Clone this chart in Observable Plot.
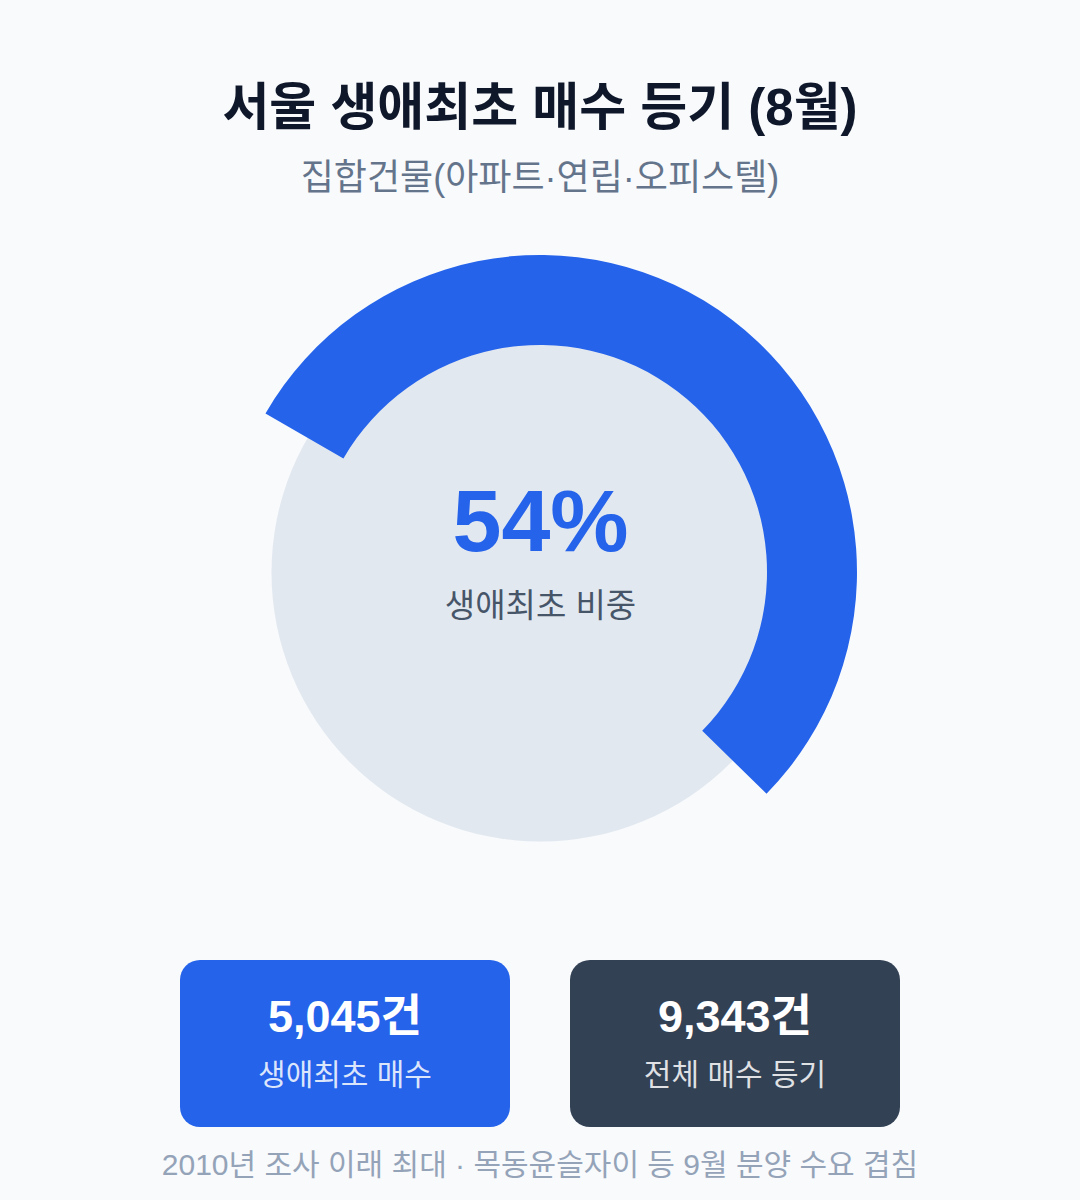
<!DOCTYPE html>
<html lang="ko">
<head>
<meta charset="utf-8">
<script src="https://cdn.jsdelivr.net/npm/d3@7"></script>
<script src="https://cdn.jsdelivr.net/npm/@observablehq/plot@0.6"></script>
<style>
  html, body { margin: 0; padding: 0; background: #f8fafc; }
  body { width: 1080px; height: 1200px; position: relative; overflow: hidden;
         font-family: "Liberation Sans", "Noto Sans CJK KR", sans-serif; }
  .abs { position: absolute; left: 0; width: 1080px; text-align: center; white-space: nowrap; }
  #title { top: 82px; font-size: 51px; line-height: 51px; font-weight: 700; color: #0f172a; }
  #subtitle { top: 160px; font-size: 36px; line-height: 36px; color: #64748b; }
  #chart { position: absolute; left: 0; top: 220px; }
  .card { position: absolute; top: 960px; width: 330px; height: 167px; border-radius: 20px; color: #fff; text-align: center; }
  .card .val { position: absolute; left: 0; width: 100%; font-size: 45px; line-height: 45px; font-weight: 700; }
  .card .lab { position: absolute; left: 0; width: 100%; font-size: 30px; line-height: 30px; color: rgba(255,255,255,0.85); }
  #footer { top: 1150px; font-size: 30px; line-height: 30px; color: #94a3b8; }
</style>
</head>
<body>
<div id="title" class="abs"></div>
<div id="subtitle" class="abs"></div>
<div id="chart"></div>
<div id="cards"></div>
<div id="footer" class="abs"></div>
<script>
// ---- data ----
const titleText = ["서울 생애최초 매수 등기 (8월)"];
const subtitleText = ["집합건물(아파트·연립·오피스텔)"];
const categories = ["생애최초 매수", "전체 매수 등기"];
const counts = [5045, 9343];
const cardColors = ["#2563eb", "#334155"];
const centerLabel = ["생애최초 비중"];
const footerText = ["2010년 조사 이래 최대 · 목동윤슬자이 등 9월 분양 수요 겹침"];

const share = counts[0] / counts[1];
const gauge = [{share, label: centerLabel[0]}];

document.getElementById("title").textContent = titleText[0];
document.getElementById("subtitle").textContent = subtitleText[0];
document.getElementById("footer").textContent = footerText[0];

const FONT = "Liberation Sans, Noto Sans CJK KR, sans-serif";
const startAngle = -Math.PI / 3;

const chart = Plot.plot({
  width: 1080,
  height: 660,
  margin: 0,
  style: {background: "transparent", fontFamily: FONT},
  x: {domain: [-540, 540], range: [0, 1080], axis: null},
  y: {domain: [352, -308], range: [0, 660], axis: null},
  marks: [
    // background disc
    Plot.dot(gauge, {x: 0, y: 0, r: 269, fill: "#e2e8f0", stroke: "none"}),
    // value arc
    Plot.dot(gauge, {
      x: 0, y: 0,
      render: (index, scales) => {
        const g = d3.create("svg:g");
        const cx = scales.x(0), cy = scales.y(0);
        const k = scales.x(1) - scales.x(0);
        for (const i of index) {
          const d = gauge[i];
          const path = d3.arc()({
            innerRadius: 227 * k,
            outerRadius: 317 * k,
            startAngle: startAngle,
            endAngle: startAngle + 2 * Math.PI * d.share
          });
          g.append("path")
            .attr("d", path)
            .attr("transform", `translate(${cx},${cy})`)
            .attr("fill", "#2563eb");
        }
        return g.node();
      }
    }),
    Plot.text(gauge, {
      x: 0, y: 0,
      text: d => d3.format(".0%")(d.share),
      fontSize: 88, fontWeight: 700, fill: "#2563eb",
      fontFamily: FONT, textAnchor: "middle", dy: -50
    }),
    Plot.text(gauge, {
      x: 0, y: 0,
      text: "label",
      fontSize: 33, fill: "#475569",
      fontFamily: FONT, textAnchor: "middle", dy: 34
    })
  ]
});
document.getElementById("chart").appendChild(chart);

// ---- cards ----
const cardsEl = document.getElementById("cards");
const fmt = d3.format(",");
categories.forEach((c, i) => {
  const card = document.createElement("div");
  card.className = "card";
  card.style.left = (180 + i * 390) + "px";
  card.style.background = cardColors[i];
  const v = document.createElement("div");
  v.className = "val";
  v.style.top = "34px";
  v.textContent = fmt(counts[i]) + "건";
  const l = document.createElement("div");
  l.className = "lab";
  l.style.top = "100px";
  l.textContent = c;
  card.appendChild(v);
  card.appendChild(l);
  cardsEl.appendChild(card);
});
</script>
</body>
</html>
